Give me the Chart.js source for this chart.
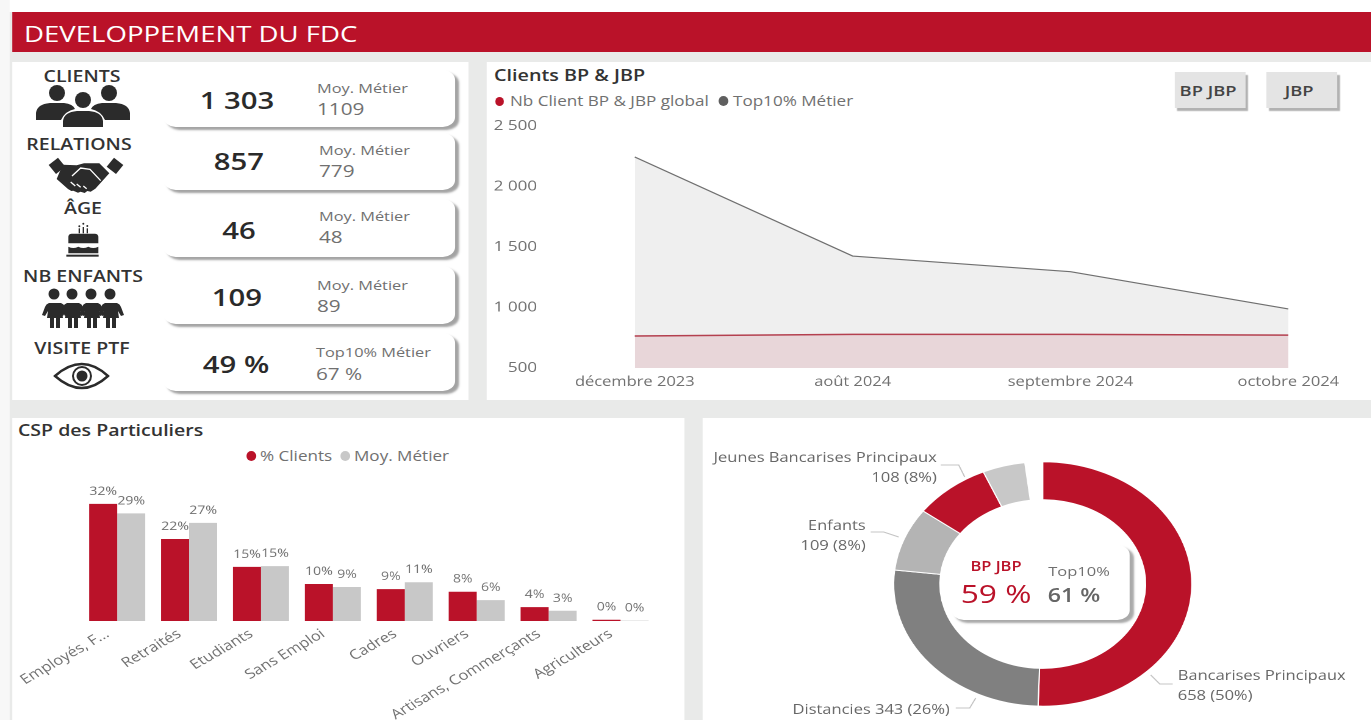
<!DOCTYPE html>
<html lang="fr">
<head>
<meta charset="utf-8">
<title>Developpement du FDC</title>
<script src="https://cdn.jsdelivr.net/npm/chart.js@4"></script>
<style>
    html, body { margin: 0; padding: 0; background: #ffffff; overflow: hidden; }
    /* the reference is a screenshot stretched sideways, the whole page gets the same stretch */
    #page { position: absolute; left: 0; top: 0; width: 1124px; height: 720px; background: #e9eae9; overflow: hidden;
            transform: scaleX(1.22); transform-origin: 0 0; font-family: "Open Sans", sans-serif; color: #333; }
    #page div { position: absolute; white-space: nowrap; }
    #page canvas { position: absolute; left: 0; top: 0; }
    .panel { background: #fff; }
    .card { background: #fff; border-radius: 10px; box-shadow: 3px 3px 2px #a3a3a3; }
    .btn { background: #e4e4e4; box-shadow: 2px 3px 1px #b2b2b2; text-align: center; font-size: 15px; font-weight: 600; color: #444; text-indent: -4px; }
    .dot { border-radius: 50%; }
</style>
</head>
<body>
<div id="page"></div>
<script>
//data
const lineMonths = ["décembre 2023", "août 2024", "septembre 2024", "octobre 2024"];
const lineClients = [764, 778, 778, 772];
const lineTop10 = [2244, 1425, 1296, 988];
const lineTicks = [500, 1000, 1500, 2000, 2500];

const cspCategories = ["Employés, F...", "Retraités", "Etudiants", "Sans Emploi", "Cadres", "Ouvriers", "Artisans, Commerçants", "Agriculteurs"];
const cspClients = [32, 22.4, 14.8, 10.1, 8.7, 8, 3.8, 0.35];
const cspMetier = [29.4, 26.8, 15, 9.3, 10.6, 5.7, 2.8, 0.1];

const donutLabels = ["Bancarises Principaux", "Distancies", "Enfants", "Jeunes Bancarises Principaux", "Autres", "Reste"];
const donutValues = [658, 343, 109, 108, 60, 25];

const kpiTitles = ["CLIENTS", "RELATIONS", "ÂGE", "NB ENFANTS", "VISITE PTF"];
const kpiValues = ["1 303", "857", "46", "109", "49 %"];
const kpiRefLabels = ["Moy. Métier", "Moy. Métier", "Moy. Métier", "Moy. Métier", "Top10% Métier"];
const kpiRefValues = ["1109", "779", "48", "89", "67 %"];

//colors
const RED = "#ba1229";
const DARK_GREY = "#808080";
const MID_GREY = "#b4b4b4";
const LIGHT_GREY = "#c8c8c8";
const TEXT_GREY = "#707070";

//layout is written in reference pixels, then divided by the page stretch
const SX = 1.22;
const page = document.getElementById("page");

function addBox(cls, x, y, w, h, style) {
    const el = document.createElement("div");
    el.className = cls || "";
    el.style.cssText = `left:${x / SX}px;top:${y}px;width:${w / SX}px;height:${h}px;` + (style || "");
    page.appendChild(el);
    return el;
}

function addText(text, x, y, size, color, weight, align) {
    // y is the vertical middle of the text, x is left/center/right depending on align
    const el = document.createElement("div");
    const shift = align == "center" ? "-50%" : (align == "right" ? "-100%" : "0");
    el.textContent = text;
    el.style.cssText = `left:${x / SX}px;top:${y}px;transform:translate(${shift},-50%);font-size:${size}px;color:${color};font-weight:${weight || 400};line-height:1.2;`;
    page.appendChild(el);
    return el;
}

function addCanvas(x, y, w, h) {
    const holder = addBox("", x, y, w, h);
    const canvas = document.createElement("canvas");
    canvas.width = w / SX;
    canvas.height = h;
    holder.appendChild(canvas);
    return canvas;
}

//panels
addBox("", 0, 0, 1371, 12, "background:#fff;");
addBox("", 0, 0, 10, 720, "background:#f7f7f7;");
addBox("", 12, 12, 1359, 40, "background:" + RED + ";");
addText("DEVELOPPEMENT DU FDC", 24, 33.5, 22.6, "#fff", 400);
addBox("panel", 12, 62, 456, 338);
addBox("panel", 487, 62, 884, 338);
addBox("panel", 12, 418, 673, 302);
addBox("panel", 703, 418, 668, 302);

//kpi cards
const cardTops = [70, 133, 199, 266, 333];
const cardHeights = [57, 57, 58, 58, 58];
const titleCenters = [[82, 77], [79, 145], [83, 209], [83, 277], [82, 349]];
const valueCenters = [[237, 100], [239, 161], [239, 230], [237, 297], [236, 364]];
const refLefts = [317, 319, 319, 317, 316];
const refLabelY = [88, 150, 216, 285, 352];
const refValueY = [109, 171, 237, 306, 374];

kpiTitles.forEach((title, i) => {
    addText(title, titleCenters[i][0], titleCenters[i][1], 16, "#333", 600, "center");
    addBox("card", 163, cardTops[i], 292, cardHeights[i]);
    addText(kpiValues[i], valueCenters[i][0], valueCenters[i][1], 24, "#2a2a2a", 600, "center");
    addText(kpiRefLabels[i], refLefts[i], refLabelY[i], 13.4, TEXT_GREY);
    addText(kpiRefValues[i], refLefts[i], refValueY[i], 17, TEXT_GREY);
});

//icons, drawn in reference pixels inside a stretched svg
const icons = document.createElementNS("http://www.w3.org/2000/svg", "svg");
icons.setAttribute("viewBox", "0 0 1371 720");
icons.setAttribute("preserveAspectRatio", "none");
icons.style.cssText = `position:absolute;left:0;top:0;width:${1371 / SX}px;height:720px;`;
let familyShapes = "";
[54, 72, 91, 110].forEach(cx => {
    familyShapes += `<circle cx="${cx}" cy="294" r="5.5"/>
        <path d="M${cx - 7} 303 h14 q3 1 4 4 l3 8 l-3 1 l-3 -5 l1 7 h-3 v10 h-4 v-10 h-2 v10 h-4 v-10 h-3 l1 -7 l-3 5 l-3 -1 l3 -8 q1 -3 4 -4 z"/>`;
});
icons.innerHTML = `
<g fill="#2b2b2b">
    <circle cx="57" cy="93" r="8"/><circle cx="109" cy="93" r="8"/><circle cx="83" cy="100" r="8"/>
    <path d="M36 120 v-7 q1 -9 14 -10 h14 q9 1 11 6 q-10 2 -14 11 z"/>
    <path d="M130 120 v-7 q-1 -9 -14 -10 h-14 q-9 1 -11 6 q10 2 14 11 z"/>
    <path d="M63 127 v-6 q1 -9 14 -10 h12 q13 1 14 10 v6 z"/>
    <g transform="translate(40 150) scale(0.3333)">
        <path d="M26 45 l28 -22 l22 27 l-28 22 z"/><path d="M250 45 l-28 -22 l-22 27 l28 22 z"/>
        <path d="M68 44 l42 2 l22 -6 l46 0 l30 30 l-42 46 l-14 9 l-10 -2 l-8 6 l-12 -4 l-8 3 l-14 -6 l-6 1 l-10 -6 l-34 -30 z"/>
    </g>
    <g transform="translate(40 215) scale(0.3333)">
        <circle cx="118" cy="34" r="3"/><circle cx="130" cy="26" r="3"/><circle cx="142" cy="33" r="3"/>
        <rect x="116" y="40" width="4" height="15"/><rect x="128" y="36" width="4" height="19"/><rect x="140" y="40" width="4" height="15"/>
        <path d="M85 85 v-20 q1 -9 10 -9 h70 q9 0 10 9 v20 z"/>
        <path d="M85 115 v-20 q15 8 30 0 q15 8 30 0 q15 8 30 0 v20 z"/>
        <rect x="79" y="119" width="97" height="6"/>
    </g>
    ${familyShapes}
    <circle cx="82" cy="376" r="5.5"/>
</g>
<g transform="translate(40 150) scale(0.3333)" fill="none" stroke="#fff" stroke-width="4">
    <path d="M96 78 l26 -24 l28 4 l32 34"/>
    <path d="M92 96 l14 12 M110 102 l12 10 M130 108 l10 8"/>
</g>
<g fill="none" stroke="#2b2b2b">
    <path d="M55 376 q27 -24 53 0 q-26 24 -53 0 z" stroke-width="2.4"/>
    <circle cx="82" cy="376" r="9" stroke-width="2"/>
</g>`;

//line chart panel
addText("Clients BP & JBP", 494, 76, 16.2, "#333", 600);
addBox("dot", 495, 97, 9, 9, "background:" + RED + ";");
addText("Nb Client BP & JBP global", 510, 101, 14, TEXT_GREY);
addBox("dot", 718, 96, 10, 10, "background:#5f5f5f;");
addText("Top10% Métier", 733, 101, 14, TEXT_GREY);
addBox("btn", 1175, 72, 71, 36, "line-height:36px;").textContent = "BP JBP";
addBox("btn", 1266, 72, 71, 36, "line-height:36px;").textContent = "JBP";

new Chart(addCanvas(487, 62, 884, 338), {
    type: "line",
    data: {
        labels: lineMonths,
        datasets: [{
            label: "Nb Client BP & JBP global",
            data: lineClients,
            borderColor: "#b4404f",
            borderWidth: 1.5,
            backgroundColor: "rgba(186, 18, 41, 0.11)",
            pointRadius: 0,
            fill: "start",
            tension: 0
        }, {
            label: "Top10% Métier",
            data: lineTop10,
            borderColor: "#6f6f6f",
            borderWidth: 1.2,
            backgroundColor: "#efefef",
            pointRadius: 0,
            fill: "start",
            tension: 0
        }]
    },
    options: {
        responsive: false,
        animation: false,
        devicePixelRatio: 2,
        layout: { padding: { top: 64, right: 67, left: 0, bottom: 0 } },
        plugins: { legend: { display: false }, tooltip: { enabled: false } },
        scales: {
            x: {
                grid: { display: false, drawTicks: false },
                border: { display: false },
                ticks: { color: TEXT_GREY, font: { family: "Open Sans", size: 13.5 }, maxRotation: 0, autoSkip: false, padding: 6 },
                afterFit: (scale) => { scale.height = 32; }
            },
            y: {
                min: 500,
                max: 2500,
                grid: { display: false, drawTicks: false },
                border: { display: false },
                afterBuildTicks: (scale) => { scale.ticks = lineTicks.map(v => ({ value: v })); },
                ticks: {
                    color: TEXT_GREY,
                    font: { family: "Open Sans", size: 14 },
                    padding: 80,
                    callback: (value) => String(value).replace(/\B(?=(\d{3})+$)/g, " ")
                },
                afterFit: (scale) => {
                    // big tick padding must not eat the plot height
                    scale.width = 121.3;
                    scale.paddingTop = 0;
                    scale.paddingBottom = 0;
                }
            }
        }
    }
});

//bar chart panel
addText("CSP des Particuliers", 18, 431, 16, "#333", 600);
addBox("dot", 246, 451, 10, 10, "background:" + RED + ";");
addText("% Clients", 260, 456, 14, TEXT_GREY);
addBox("dot", 340, 451, 10, 10, "background:" + LIGHT_GREY + ";");
addText("Moy. Métier", 354, 456, 14, TEXT_GREY);

const barLabelsPlugin = {
    id: "barLabels",
    afterDatasetsDraw(chart) {
        const ctx = chart.ctx;
        ctx.save();
        ctx.font = "11.5px 'Open Sans'";
        ctx.fillStyle = TEXT_GREY;
        ctx.textAlign = "center";
        chart.data.datasets.forEach((dataset, d) => {
            chart.getDatasetMeta(d).data.forEach((bar, i) => {
                ctx.fillText(Math.round(dataset.data[i]) + "%", bar.x, bar.y - 9);
            });
        });
        ctx.restore();
    }
};

new Chart(addCanvas(12, 418, 673, 302), {
    type: "bar",
    data: {
        labels: cspCategories,
        datasets: [
            { label: "% Clients", data: cspClients, backgroundColor: RED },
            { label: "Moy. Métier", data: cspMetier, backgroundColor: LIGHT_GREY }
        ]
    },
    options: {
        responsive: false,
        animation: false,
        devicePixelRatio: 2,
        categoryPercentage: 0.78,
        barPercentage: 1,
        layout: { padding: { top: 56.6, left: 56.6, right: 22.9, bottom: 0 } },
        plugins: { legend: { display: false }, tooltip: { enabled: false } },
        scales: {
            x: {
                grid: { display: false, drawTicks: false },
                border: { display: false },
                ticks: { color: TEXT_GREY, font: { family: "Open Sans", size: 13.5 }, minRotation: 35, maxRotation: 35, autoSkip: false, padding: 5, labelOffset: -8 },
                afterFit: (scale) => { scale.height = 99; }
            },
            y: { display: false, min: 0, max: 40 }
        }
    },
    plugins: [barLabelsPlugin]
});

//donut panel, text blocks are placed by hand like the original callouts
const donutCallouts = [
    { lines: ["Bancarises Principaux", "658 (50%)"], x: 1178, y: 676, align: "left", leader: [[1151, 675], [1160, 684], [1173, 684]] },
    { lines: ["Distancies 343 (26%)"], x: 950, y: 710, align: "right", leader: [[976, 698], [970, 708], [956, 708]] },
    { lines: ["Enfants", "109 (8%)"], x: 866, y: 526, align: "right", leader: [[899, 537], [884, 532], [871, 532]] },
    { lines: ["Jeunes Bancarises Principaux", "108 (8%)"], x: 937, y: 458, align: "right", leader: [[965, 477], [959, 465], [941, 465]] }
];

const donutCalloutsPlugin = {
    id: "donutCallouts",
    afterDraw(chart) {
        const ctx = chart.ctx;
        ctx.save();
        ctx.font = "13.5px 'Open Sans'";
        ctx.textBaseline = "middle";
        donutCallouts.forEach(item => {
            ctx.fillStyle = "#666";
            ctx.textAlign = item.align;
            item.lines.forEach((line, i) => {
                ctx.fillText(line, (item.x - 703) / SX, item.y - 418 + i * 20);
            });
            ctx.strokeStyle = "#c4c4c4";
            ctx.lineWidth = 1;
            ctx.beginPath();
            item.leader.forEach((p, i) => {
                const px = (p[0] - 703) / SX;
                const py = p[1] - 418;
                if (i == 0) ctx.moveTo(px, py); else ctx.lineTo(px, py);
            });
            ctx.stroke();
        });
        ctx.restore();
    }
};

new Chart(addCanvas(703, 418, 668, 302), {
    type: "doughnut",
    data: {
        labels: donutLabels,
        datasets: [{
            data: donutValues,
            backgroundColor: [RED, DARK_GREY, MID_GREY, RED, LIGHT_GREY, "rgba(255,255,255,0)"],
            borderColor: ["#fff", "#fff", "#fff", "#fff", "#fff", "rgba(255,255,255,0)"],
            borderWidth: 1
        }]
    },
    options: {
        responsive: false,
        animation: false,
        devicePixelRatio: 2,
        cutout: "69%",
        layout: { padding: { top: 43, bottom: 13, left: 156, right: 145.6 } },
        plugins: { legend: { display: false }, tooltip: { enabled: false } }
    },
    plugins: [donutCalloutsPlugin]
});

//card in the donut hole
addBox("card", 952, 545, 178, 75, "box-shadow:3px 3px 2px #a9a9a9;background:#fff;border-radius:10px;");
addText("BP JBP", 996, 566, 13.5, RED, 600, "center");
addText("59 %", 996, 594, 26, RED, 500, "center");
addText("Top10%", 1079, 571, 13.5, TEXT_GREY, 400, "center");
addText("61 %", 1074, 595, 19, "#666", 600, "center");

page.appendChild(icons);
</script>
</body>
</html>
